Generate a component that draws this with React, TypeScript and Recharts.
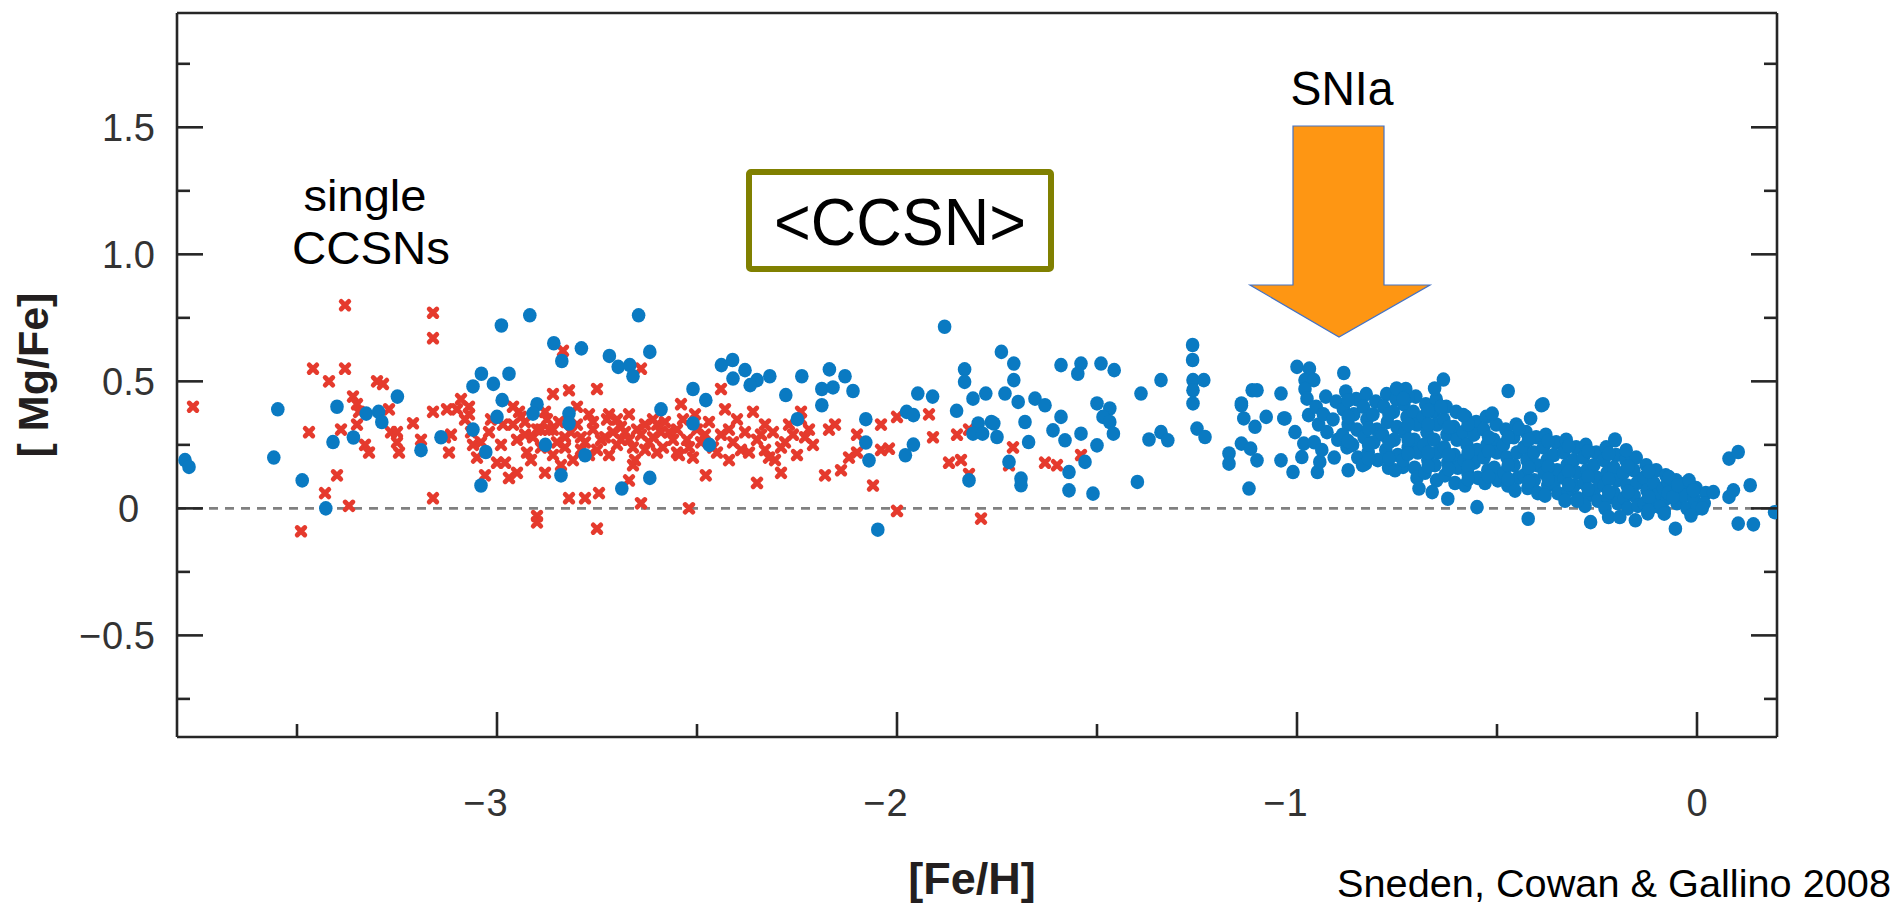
import React from 'react';
import { ScatterChart, Scatter, XAxis, YAxis, ReferenceLine } from 'recharts';

// ---------- axis settings ----------
const xDomain: [number, number] = [-3.8, 0.2];
const yDomain: [number, number] = [-0.9, 1.95];
const xTicks = [-3.5, -3, -2.5, -2, -1.5, -1, -0.5, 0];
const xMajor = [-3, -2, -1, 0];
const xTickLabels = ['−3', '−2', '−1', '0'];
const yTicks = [-0.75, -0.5, -0.25, 0, 0.25, 0.5, 0.75, 1, 1.25, 1.5, 1.75];
const yMajor = [-0.5, 0, 0.5, 1, 1.5];
const yTickLabels = ['−0.5', '0', '0.5', '1.0', '1.5'];

// ---------- data: [ [Fe/H], [Mg/Fe] ] ----------
// single CCSN model predictions (red crosses)
const ccsnMetalPoor: [number, number][] = [
  [-3.76, 0.40], [-3.49, -0.09], [-3.47, 0.30], [-3.46, 0.55], [-3.43, 0.06], [-3.42, 0.50], [-3.40, 0.13],
  [-3.39, 0.31], [-3.38, 0.80], [-3.38, 0.55], [-3.37, 0.01], [-3.36, 0.44], [-3.35, 0.41], [-3.35, 0.33],
  [-3.345, 0.38], [-3.33, 0.25], [-3.32, 0.22], [-3.30, 0.50], [-3.285, 0.49], [-3.27, 0.39], [-3.265, 0.30],
  [-3.25, 0.30], [-3.25, 0.26], [-3.245, 0.22], [-3.21, 0.335], [-3.19, 0.27], [-3.16, 0.77], [-3.16, 0.67],
  [-3.16, 0.38], [-3.16, 0.04], [-3.13, 0.28], [-3.125, 0.39], [-3.12, 0.22], [-3.115, 0.29], [-3.10, 0.39],
  [-3.09, 0.43], [-3.08, 0.35], [-3.07, 0.37], [-3.07, 0.40], [-3.065, 0.30], [-3.06, 0.25], [-3.05, 0.20],
  [-3.04, 0.26], [-3.03, 0.13], [-3.02, 0.30], [-3.015, 0.35], [-3.0, 0.18], [-2.99, 0.25], [-2.985, 0.33],
  [-2.98, 0.18], [-2.97, 0.12], [-2.96, 0.33], [-2.96, 0.40], [-2.95, 0.14], [-2.95, 0.27], [-2.945, 0.38],
  [-2.94, 0.36], [-2.93, 0.29], [-2.93, 0.34], [-2.925, 0.22], [-2.915, 0.19], [-2.91, 0.28],
];
const ccsnMid: [number, number][] = [
  [-2.90, 0.31], [-2.90, -0.03], [-2.90, -0.055], [-2.89, 0.31], [-2.89, 0.24], [-2.88, 0.14], [-2.88, 0.38],
  [-2.875, 0.35], [-2.87, 0.31], [-2.86, 0.45], [-2.86, 0.31], [-2.86, 0.21], [-2.85, 0.26], [-2.845, 0.34],
  [-2.84, 0.17], [-2.835, 0.62], [-2.83, 0.28], [-2.83, 0.24], [-2.82, 0.465], [-2.82, 0.04], [-2.815, 0.30],
  [-2.81, 0.19], [-2.80, 0.33], [-2.80, 0.40], [-2.79, 0.28], [-2.79, 0.23], [-2.78, 0.04], [-2.78, 0.26],
  [-2.77, 0.37], [-2.77, 0.21], [-2.76, 0.31], [-2.76, 0.34], [-2.75, 0.47], [-2.75, -0.08], [-2.75, 0.23],
  [-2.745, 0.06], [-2.74, 0.27], [-2.73, 0.28], [-2.725, 0.35], [-2.72, 0.37], [-2.72, 0.21], [-2.71, 0.30],
  [-2.70, 0.25], [-2.70, 0.35], [-2.69, 0.32], [-2.69, 0.27], [-2.68, 0.30], [-2.67, 0.27], [-2.67, 0.37],
  [-2.67, 0.11], [-2.66, 0.17], [-2.66, 0.24], [-2.655, 0.19], [-2.65, 0.31], [-2.64, 0.55], [-2.64, 0.02],
  [-2.64, 0.29], [-2.63, 0.23], [-2.63, 0.33], [-2.62, 0.26], [-2.61, 0.28], [-2.61, 0.35], [-2.60, 0.33],
  [-2.60, 0.22], [-2.59, 0.30], [-2.585, 0.24], [-2.58, 0.34], [-2.57, 0.30], [-2.56, 0.27], [-2.55, 0.22],
  [-2.55, 0.31], [-2.545, 0.21], [-2.54, 0.41], [-2.535, 0.35], [-2.525, 0.27], [-2.52, 0.0], [-2.52, 0.24],
  [-2.51, 0.20], [-2.505, 0.37], [-2.50, 0.31], [-2.49, 0.26], [-2.48, 0.29], [-2.478, 0.13], [-2.47, 0.34],
  [-2.46, 0.24], [-2.45, 0.22], [-2.44, 0.47], [-2.44, 0.29], [-2.43, 0.39], [-2.42, 0.31], [-2.42, 0.19],
  [-2.41, 0.26], [-2.40, 0.35], [-2.39, 0.23], [-2.38, 0.30], [-2.37, 0.22], [-2.36, 0.38], [-2.35, 0.10],
  [-2.35, 0.27], [-2.34, 0.29], [-2.33, 0.23], [-2.33, 0.33], [-2.32, 0.20], [-2.31, 0.30], [-2.305, 0.19],
  [-2.29, 0.14], [-2.29, 0.24], [-2.28, 0.26], [-2.27, 0.33], [-2.26, 0.29], [-2.25, 0.21], [-2.24, 0.38],
  [-2.24, 0.35], [-2.23, 0.28], [-2.22, 0.31], [-2.21, 0.25], [-2.18, 0.13], [-2.17, 0.31], [-2.155, 0.33],
  [-2.14, 0.15], [-2.12, 0.20], [-2.10, 0.29], [-2.10, 0.22], [-2.06, 0.09], [-2.04, 0.23], [-2.04, 0.33],
  [-2.02, 0.235], [-2.0, 0.36], [-2.0, -0.01], [-1.92, 0.37], [-1.91, 0.28], [-1.87, 0.18], [-1.85, 0.29],
  [-1.84, 0.19], [-1.82, 0.31], [-1.82, 0.135], [-1.79, -0.04], [-1.72, 0.17], [-1.71, 0.24], [-1.63, 0.18],
  [-1.60, 0.17], [-1.54, 0.21],
];

// observed stars (blue dots)
const haloStars: [number, number][] = [
  [-3.78, 0.19], [-3.77, 0.163], [-3.558, 0.20], [-3.548, 0.39], [-3.487, 0.11], [-3.428, 0.0], [-3.41, 0.261],
  [-3.40, 0.40], [-3.359, 0.279], [-3.327, 0.373], [-3.296, 0.38], [-3.288, 0.34], [-3.249, 0.44], [-3.19, 0.229],
  [-3.14, 0.28], [-3.06, 0.31], [-3.028, 0.222], [-3.04, 0.09], [-3.039, 0.53], [-3.009, 0.49], [-2.97, 0.53],
  [-3.06, 0.48], [-2.987, 0.426], [-3.0, 0.36], [-2.989, 0.72], [-2.918, 0.76], [-2.646, 0.76], [-2.858, 0.65],
  [-2.789, 0.63], [-2.838, 0.58], [-2.618, 0.616], [-2.719, 0.60], [-2.697, 0.557], [-2.668, 0.564], [-2.66, 0.52],
  [-2.90, 0.41], [-2.91, 0.373], [-2.82, 0.373], [-2.82, 0.334], [-2.59, 0.39], [-2.51, 0.47], [-2.51, 0.334],
  [-2.879, 0.25], [-2.84, 0.13], [-2.78, 0.209], [-2.688, 0.078], [-2.618, 0.12], [-2.469, 0.25], [-2.249, 0.351],
  [-2.188, 0.406], [-2.078, 0.351], [-2.078, 0.259], [-2.07, 0.189], [-2.048, -0.084], [-1.976, 0.38],
  [-1.959, 0.367], [-1.979, 0.209], [-1.959, 0.251], [-2.439, 0.564], [-2.411, 0.584], [-2.38, 0.544],
  [-2.35, 0.505], [-2.41, 0.511], [-2.367, 0.485], [-2.318, 0.52], [-2.478, 0.426], [-2.238, 0.52],
  [-2.169, 0.547], [-2.13, 0.52], [-2.188, 0.47], [-2.16, 0.476], [-2.11, 0.462], [-2.278, 0.446],
  [-1.948, 0.452], [-1.911, 0.44], [-1.881, 0.715],
];
const thickDiskStars: [number, number][] = [
  [-1.851, 0.384], [-1.831, 0.547], [-1.831, 0.498], [-1.739, 0.616], [-1.708, 0.57], [-1.708, 0.505],
  [-1.73, 0.452], [-1.697, 0.419], [-1.778, 0.452], [-1.81, 0.432], [-1.797, 0.334], [-1.764, 0.34],
  [-1.655, 0.432], [-1.63, 0.406], [-1.59, 0.564], [-1.54, 0.57], [-1.548, 0.53], [-1.49, 0.57], [-1.457, 0.544],
  [-1.59, 0.36], [-1.50, 0.413], [-1.468, 0.393], [-1.485, 0.36], [-1.468, 0.34], [-1.39, 0.452], [-1.34, 0.505],
  [-1.261, 0.643], [-1.261, 0.584], [-1.26, 0.505], [-1.233, 0.505], [-1.26, 0.465], [-1.26, 0.413],
  [-1.82, 0.11], [-1.81, 0.294], [-1.786, 0.294], [-1.758, 0.334], [-1.75, 0.281], [-1.72, 0.183], [-1.68, 0.34],
  [-1.671, 0.261], [-1.69, 0.117], [-1.69, 0.091], [-1.61, 0.307], [-1.58, 0.268], [-1.57, 0.143], [-1.57, 0.071],
  [-1.54, 0.294], [-1.53, 0.183], [-1.51, 0.058], [-1.50, 0.248], [-1.459, 0.294], [-1.399, 0.104], [-1.37, 0.271],
  [-1.34, 0.30], [-1.323, 0.268], [-1.25, 0.314], [-1.23, 0.281], [-1.17, 0.216], [-1.17, 0.176], [-1.139, 0.255],
  [-1.116, 0.235], [-1.10, 0.189], [-1.12, 0.078], [-1.133, 0.354], [-1.077, 0.36], [-1.033, 0.354],
  [-1.105, 0.321], [-1.139, 0.406], [-1.04, 0.189], [-1.01, 0.143], [-0.988, 0.202], [-0.949, 0.143],
  [-0.943, 0.183], [-1.005, 0.30], [-0.971, 0.367], [-1.0, 0.557], [-0.969, 0.55], [-0.98, 0.505], [-0.958, 0.505],
  [-0.98, 0.47], [-0.975, 0.432], [-0.883, 0.533], [-1.112, 0.465], [-1.10, 0.465], [-1.04, 0.452],
  [-1.139, 0.413], [-1.03, 0.354], [-0.983, 0.255], [-0.872, 0.15], [-0.829, 0.176], [-0.735, 0.163],
];
const diskCore: [number, number][] = [
  [-0.952, 0.40], [-0.946, 0.33], [-0.957, 0.26],
  [-0.928, 0.44], [-0.934, 0.37], [-0.925, 0.30], [-0.938, 0.23],
  [-0.902, 0.42], [-0.91, 0.35], [-0.898, 0.27], [-0.907, 0.20],
  [-0.878, 0.46], [-0.884, 0.39], [-0.872, 0.33], [-0.886, 0.29], [-0.875, 0.24],
  [-0.852, 0.43], [-0.858, 0.37], [-0.85, 0.31], [-0.861, 0.25], [-0.848, 0.20],
  [-0.827, 0.45], [-0.834, 0.40], [-0.825, 0.35], [-0.832, 0.28], [-0.822, 0.22], [-0.836, 0.17],
  [-0.803, 0.42], [-0.81, 0.37], [-0.8, 0.31], [-0.808, 0.26], [-0.798, 0.19],
  [-0.776, 0.45], [-0.783, 0.40], [-0.774, 0.34], [-0.786, 0.29], [-0.778, 0.23], [-0.771, 0.16],
  [-0.752, 0.43], [-0.759, 0.38], [-0.75, 0.32], [-0.757, 0.27], [-0.748, 0.21], [-0.755, 0.15],
  [-0.728, 0.47], [-0.733, 0.41], [-0.725, 0.36], [-0.731, 0.30], [-0.722, 0.24], [-0.735, 0.19],
  [-0.703, 0.44], [-0.709, 0.38], [-0.7, 0.33], [-0.707, 0.27], [-0.698, 0.22], [-0.706, 0.16], [-0.7, 0.12],
  [-0.678, 0.41], [-0.684, 0.36], [-0.675, 0.30], [-0.682, 0.25], [-0.673, 0.19], [-0.68, 0.14],
  [-0.652, 0.43], [-0.658, 0.38], [-0.65, 0.33], [-0.657, 0.27], [-0.648, 0.22], [-0.655, 0.17], [-0.651, 0.11],
  [-0.627, 0.40], [-0.633, 0.35], [-0.625, 0.29], [-0.632, 0.24], [-0.623, 0.18], [-0.63, 0.13],
  [-0.602, 0.38], [-0.608, 0.32], [-0.6, 0.27], [-0.607, 0.21], [-0.598, 0.16], [-0.605, 0.10],
  [-0.578, 0.36], [-0.584, 0.30], [-0.575, 0.25], [-0.582, 0.19], [-0.573, 0.14], [-0.58, 0.09],
  [-0.552, 0.34], [-0.558, 0.29], [-0.55, 0.23], [-0.557, 0.18], [-0.548, 0.12],
  [-0.527, 0.36], [-0.533, 0.31], [-0.525, 0.25], [-0.532, 0.20], [-0.523, 0.15], [-0.53, 0.10],
  [-0.502, 0.33], [-0.508, 0.27], [-0.5, 0.22], [-0.507, 0.16], [-0.498, 0.11],
  [-0.478, 0.31], [-0.484, 0.25], [-0.475, 0.20], [-0.482, 0.14], [-0.473, 0.09],
  [-0.452, 0.33], [-0.458, 0.28], [-0.45, 0.22], [-0.457, 0.17], [-0.448, 0.12], [-0.455, 0.07],
  [-0.427, 0.30], [-0.433, 0.24], [-0.425, 0.19], [-0.432, 0.13], [-0.423, 0.08],
  [-0.402, 0.28], [-0.408, 0.22], [-0.4, 0.17], [-0.407, 0.11], [-0.398, 0.06],
  [-0.378, 0.29], [-0.384, 0.24], [-0.375, 0.19], [-0.382, 0.14], [-0.373, 0.09], [-0.38, 0.05],
  [-0.352, 0.26], [-0.358, 0.21], [-0.35, 0.15], [-0.357, 0.10], [-0.348, 0.06],
  [-0.327, 0.27], [-0.333, 0.22], [-0.325, 0.17], [-0.332, 0.12], [-0.323, 0.07], [-0.33, 0.03],
  [-0.302, 0.24], [-0.308, 0.19], [-0.3, 0.14], [-0.307, 0.09], [-0.298, 0.04],
  [-0.278, 0.25], [-0.284, 0.20], [-0.275, 0.15], [-0.282, 0.10], [-0.273, 0.05], [-0.28, 0.01],
  [-0.252, 0.22], [-0.258, 0.17], [-0.25, 0.12], [-0.257, 0.07], [-0.248, 0.03],
  [-0.227, 0.24], [-0.233, 0.19], [-0.225, 0.14], [-0.232, 0.09], [-0.223, 0.04], [-0.23, 0.0],
  [-0.202, 0.21], [-0.208, 0.16], [-0.2, 0.11], [-0.207, 0.06], [-0.198, 0.02],
  [-0.178, 0.19], [-0.184, 0.14], [-0.175, 0.09], [-0.182, 0.04], [-0.173, 0.0],
  [-0.152, 0.20], [-0.158, 0.15], [-0.15, 0.10], [-0.157, 0.05], [-0.148, 0.01],
  [-0.127, 0.17], [-0.133, 0.12], [-0.125, 0.07], [-0.132, 0.02], [-0.123, -0.02],
  [-0.102, 0.15], [-0.108, 0.10], [-0.1, 0.05], [-0.107, 0.01],
  [-0.078, 0.13], [-0.084, 0.08], [-0.075, 0.04], [-0.082, -0.01],
  [-0.052, 0.11], [-0.058, 0.06], [-0.05, 0.02],
  [-0.027, 0.10], [-0.033, 0.05], [-0.025, 0.0],
  [-0.002, 0.08], [-0.008, 0.04], [0.0, 0.0],
  [0.022, 0.06], [0.018, 0.02],
];
const diskCoreInner: [number, number][] = [
  [-0.872, 0.425], [-0.872, 0.36], [-0.872, 0.265],
  [-0.821, 0.315], [-0.821, 0.25], [-0.821, 0.195],
  [-0.77, 0.37], [-0.77, 0.26], [-0.77, 0.195],
  [-0.722, 0.44], [-0.722, 0.33], [-0.722, 0.27], [-0.722, 0.215],
  [-0.672, 0.385], [-0.672, 0.33], [-0.672, 0.22], [-0.672, 0.165],
  [-0.621, 0.32], [-0.621, 0.21], [-0.621, 0.155],
  [-0.572, 0.33], [-0.572, 0.22], [-0.572, 0.165], [-0.572, 0.115],
  [-0.521, 0.28], [-0.521, 0.225], [-0.521, 0.125],
  [-0.472, 0.28], [-0.472, 0.17], [-0.472, 0.115],
  [-0.421, 0.27], [-0.421, 0.16], [-0.421, 0.105],
  [-0.372, 0.265], [-0.372, 0.165], [-0.372, 0.115],
  [-0.321, 0.245], [-0.321, 0.145], [-0.321, 0.095],
  [-0.272, 0.225], [-0.272, 0.125], [-0.272, 0.075],
  [-0.221, 0.215], [-0.221, 0.115], [-0.221, 0.065],
  [-0.172, 0.165], [-0.172, 0.065],
  [-0.121, 0.145], [-0.121, 0.045],
  [-0.072, 0.105], [-0.072, 0.06],
];
const diskOutliers: [number, number][] = [
  [-0.695, 0.078], [-0.662, 0.064], [-0.623, 0.038], [-0.55, 0.005], [-0.422, -0.041], [-0.30, 0.03],
  [-0.266, -0.054], [-0.221, -0.034], [-0.193, -0.034], [-0.154, -0.047], [-0.093, 0.005], [-0.082, -0.021],
  [-0.121, -0.008], [-0.054, -0.08], [-0.015, -0.028], [0.013, 0.0], [0.041, 0.064], [0.08, 0.045],
  [0.091, 0.071], [0.08, 0.196], [0.103, 0.222], [0.133, 0.091], [0.103, -0.06], [0.141, -0.063],
  [0.194, -0.015], [-0.07, 0.123], [-0.06, 0.045], [-0.048, 0.091], [-0.02, 0.11], [-0.009, 0.071],
  [-0.177, 0.229], [-0.205, 0.268], [-0.389, 0.406], [-0.416, 0.354], [-0.445, 0.314], [-0.512, 0.373],
  [-0.584, 0.367], [-0.64, 0.40], [-0.634, 0.507], [-0.656, 0.472], [-0.751, 0.472], [-0.734, 0.432],
  [-0.472, 0.462], [-0.385, 0.41], [-0.205, 0.271],
];

const toPts = (arr: [number, number][]) => arr.map(([x, y]) => ({ x, y }));
const redData = [...toPts(ccsnMetalPoor), ...toPts(ccsnMid)];
const blueData = [
  ...toPts(haloStars),
  ...toPts(thickDiskStars),
  ...toPts(diskCore),
  ...toPts(diskCoreInner),
  ...toPts(diskOutliers),
];

// ---------- styling ----------
const FONT = "'Liberation Sans', Arial, Helvetica, sans-serif";
const NARROW = "'Liberation Sans Narrow', 'Liberation Sans', Arial, sans-serif";
const AXIS = '#262626';
const LABEL = '#333333';
const TICK_FS = 38;

const W = 1903;
const H = 905;

function NumLabel({ x, y, text }: { x: number; y: number; text: string }) {
  const neg = text.startsWith('−');
  const body = neg ? text.slice(1) : text;
  const w = body.split('').reduce((s, c) => s + (c === '.' ? 0.278 : 0.556), 0) * TICK_FS;
  return (
    <g fontFamily={FONT} fontSize={TICK_FS} fill={LABEL}>
      {neg && (
        <text x={x - w / 2 - 1} y={y} textAnchor="end">
          −
        </text>
      )}
      <text x={x} y={y} textAnchor="middle">
        {body}
      </text>
    </g>
  );
}

const BottomTick = (props: any) => {
  const { x, y, payload } = props;
  const idx = xMajor.indexOf(payload.value);
  const len = idx >= 0 ? 25 : 13;
  return (
    <g>
      <line x1={x} x2={x} y1={y} y2={y - len} stroke={AXIS} strokeWidth={2.6} />
      {idx >= 0 && <NumLabel x={x} y={y + 79} text={xTickLabels[idx]} />}
    </g>
  );
};
const TopTick = (props: any) => {
  const { x, y, payload } = props;
  const len = xMajor.indexOf(payload.value) >= 0 ? 25 : 12;
  return <line x1={x} x2={x} y1={y} y2={y + len} stroke={AXIS} strokeWidth={2.6} />;
};
const LeftTick = (props: any) => {
  const { x, y, payload } = props;
  const idx = yMajor.indexOf(payload.value);
  const len = idx >= 0 ? 26 : 13;
  return (
    <g>
      <line x1={x} x2={x + len} y1={y} y2={y} stroke={AXIS} strokeWidth={2.6} />
      {idx >= 0 && <NumLabel x={x - 48.5} y={y + 13.6} text={yTickLabels[idx]} />}
    </g>
  );
};
const RightTick = (props: any) => {
  const { x, y, payload } = props;
  const len = yMajor.indexOf(payload.value) >= 0 ? 26 : 13;
  return <line x1={x} x2={x - len} y1={y} y2={y} stroke={AXIS} strokeWidth={2.6} />;
};

const BlueDot = (props: any) => {
  const { cx, cy } = props;
  if (cx == null || cy == null) return <g />;
  return <ellipse cx={cx} cy={cy} rx={6.8} ry={7.3} fill="#0a7ac2" />;
};
const RedCross = (props: any) => {
  const { cx, cy } = props;
  if (cx == null || cy == null) return <g />;
  const a = 3.8;
  return (
    <path
      d={`M${cx - a},${cy - a}L${cx + a},${cy + a}M${cx - a},${cy + a}L${cx + a},${cy - a}`}
      stroke="#e53a2d"
      strokeWidth={4.8}
      strokeLinecap="round"
      fill="none"
    />
  );
};

export default function App() {
  return (
    <div style={{ position: 'absolute', left: 0, top: 0, width: W, height: H, background: '#fff' }}>
      <ScatterChart width={W} height={H} margin={{ top: 12, right: 125, bottom: 0, left: 0 }}>
        <XAxis
          xAxisId={0}
          dataKey="x"
          type="number"
          domain={xDomain}
          ticks={xTicks}
          interval={0}
          allowDataOverflow
          height={168}
          tickSize={0}
          tickMargin={0}
          tickLine={false}
          axisLine={{ stroke: AXIS, strokeWidth: 2.6 }}
          tick={<BottomTick />}
        />
        <XAxis
          xAxisId="top"
          orientation="top"
          type="number"
          domain={xDomain}
          ticks={xTicks}
          interval={0}
          allowDataOverflow
          height={1}
          tickSize={0}
          tickMargin={0}
          tickLine={false}
          axisLine={{ stroke: AXIS, strokeWidth: 2.6 }}
          tick={<TopTick />}
        />
        <YAxis
          yAxisId={0}
          dataKey="y"
          type="number"
          domain={yDomain}
          ticks={yTicks}
          interval={0}
          allowDataOverflow
          width={177}
          tickSize={0}
          tickMargin={0}
          tickLine={false}
          axisLine={{ stroke: AXIS, strokeWidth: 2.6 }}
          tick={<LeftTick />}
        />
        <YAxis
          yAxisId="right"
          orientation="right"
          type="number"
          domain={yDomain}
          ticks={yTicks}
          interval={0}
          allowDataOverflow
          width={1}
          tickSize={0}
          tickMargin={0}
          tickLine={false}
          axisLine={{ stroke: AXIS, strokeWidth: 2.6 }}
          tick={<RightTick />}
        />
        <ReferenceLine y={0} xAxisId={0} yAxisId={0} stroke="#808080" strokeWidth={2.6} strokeDasharray="9 7" />
        <Scatter
          name="single CCSNs"
          data={redData}
          xAxisId={0}
          yAxisId={0}
          shape={<RedCross />}
          isAnimationActive={false}
        />
        <Scatter
          name="stars"
          data={blueData}
          xAxisId={0}
          yAxisId={0}
          shape={<BlueDot />}
          isAnimationActive={false}
        />
      </ScatterChart>
      <svg
        width={W}
        height={H}
        style={{ position: 'absolute', left: 0, top: 0, pointerEvents: 'none' }}
      >
        {/* axis titles */}
        <text
          transform="translate(48,375) rotate(-90)"
          textAnchor="middle"
          fontFamily={FONT}
          fontWeight="bold"
          fontSize={43}
          fill="#231f20"
        >
          [ Mg/Fe]
        </text>
        <text x={972} y={894} textAnchor="middle" fontFamily={FONT} fontWeight="bold" fontSize={45} fill="#231f20">
          [Fe/H]
        </text>
        {/* annotations */}
        <text x={365} y={211} textAnchor="middle" fontFamily={NARROW} fontSize={44} fill="#000"
          textLength={123} lengthAdjust="spacingAndGlyphs">
          single
        </text>
        <text x={371} y={264} textAnchor="middle" fontFamily={NARROW} fontSize={46} fill="#000"
          textLength={158} lengthAdjust="spacingAndGlyphs">
          CCSNs
        </text>
        <rect x={749} y={172} width={302} height={97} rx={2} fill="#fff" stroke="#808000" strokeWidth={6} />
        <text x={900} y={245} textAnchor="middle" fontFamily={NARROW} fontSize={66} fill="#000"
          textLength={252} lengthAdjust="spacingAndGlyphs">
          &lt;CCSN&gt;
        </text>
        <text x={1342} y={105} textAnchor="middle" fontFamily={NARROW} fontSize={48} fill="#000"
          textLength={103} lengthAdjust="spacingAndGlyphs">
          SNIa
        </text>
        <polygon
          points="1293,126 1384,126 1384,285 1430,285 1339,337 1250,285 1293,285"
          fill="#fe9613"
          stroke="#4472c4"
          strokeWidth={1.2}
        />
        <text x={1891} y={897} textAnchor="end" fontFamily={NARROW} fontSize={39} fill="#000"
          textLength={554} lengthAdjust="spacingAndGlyphs">
          Sneden, Cowan &amp; Gallino 2008
        </text>
      </svg>
    </div>
  );
}
